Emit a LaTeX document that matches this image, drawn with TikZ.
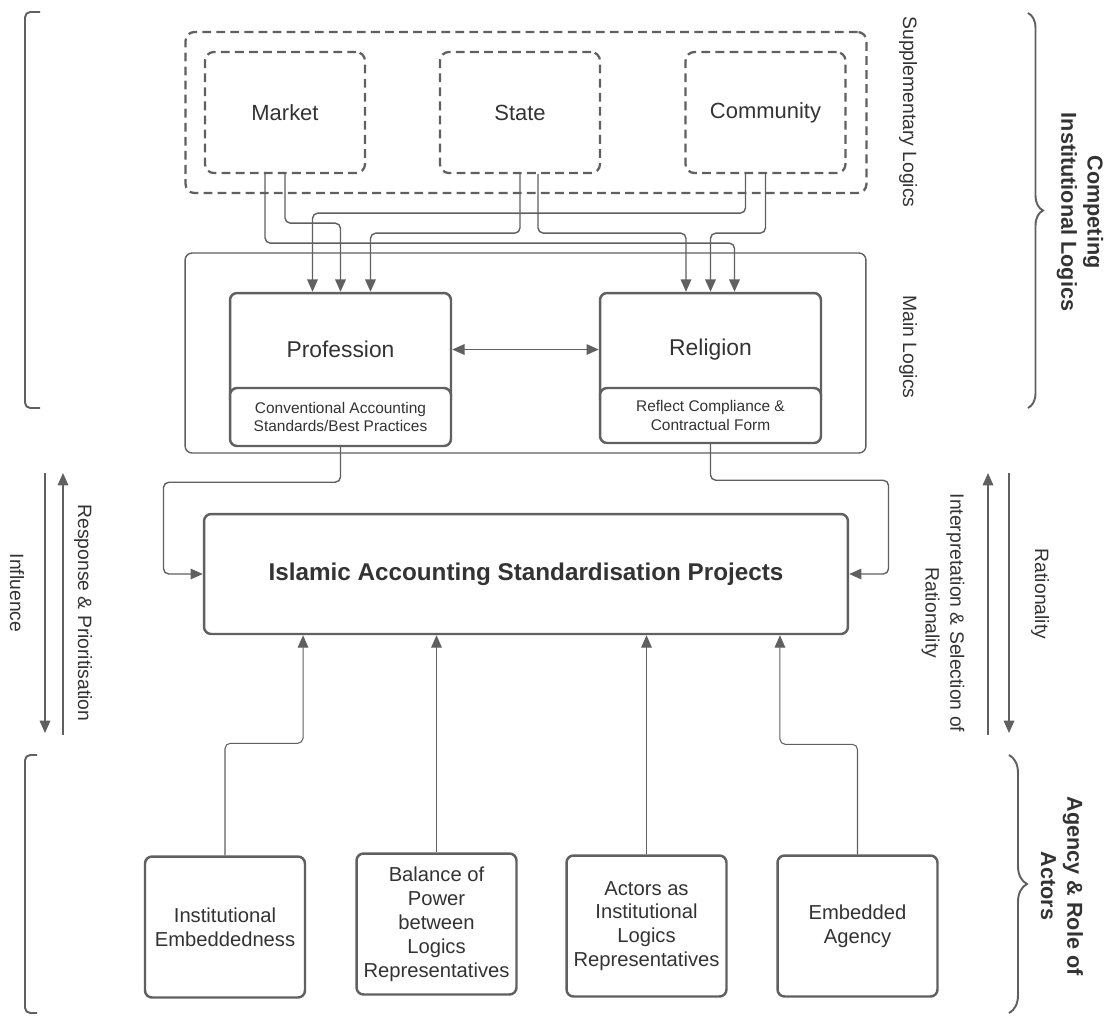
\documentclass[tikz,border=0pt]{standalone}
\usepackage{fontspec}
\setmainfont{Liberation Sans}
\usetikzlibrary{arrows.meta, positioning, calc, decorations.pathreplacing}
\definecolor{linegray}{RGB}{96,96,96}
\definecolor{textgray}{RGB}{51,51,51}
\tikzset{
    logicbox/.style={
        rectangle, draw=linegray, line width=1.3pt, dash pattern=on 5pt off 3pt,
        rounded corners=5pt, text=textgray, font=\fontsize{12.5}{15}\selectfont
    },
    mainblock/.style={
        rectangle, draw=linegray, line width=1.4pt, rounded corners=4pt,
        fill=white, text=textgray, align=center
    },
    subblock/.style={mainblock, font=\fontsize{8.8}{10.4}\selectfont},
    actorblock/.style={
        mainblock, minimum width=3.2cm, minimum height=2.82cm,
        font=\fontsize{11.5}{13.6}\selectfont
    },
    link/.style={draw=linegray, line width=0.8pt, rounded corners=3pt, -{Triangle[length=7pt, width=6pt]}},
    flow/.style={draw=linegray, line width=0.8pt, -{Triangle[length=7pt, width=6pt]}},
    sidelabel/.style={rotate=-90, text=textgray, align=center, font=\fontsize{11}{14}\selectfont},
    grouplabel/.style={rotate=-90, text=textgray, align=center, font=\fontsize{12.3}{15}\selectfont\bfseries},
    bracket/.style={draw=linegray, line width=1.1pt, rounded corners=3pt},
    bracebar/.style={draw=linegray, line width=1.1pt, decorate}
}
\begin{document}
\begin{tikzpicture}[x=0.02cm, y=-0.02cm]
\useasboundingbox (0,0) rectangle (1108,1015);

% Supplementary logics
\node[logicbox, minimum width=13.62cm, minimum height=3.22cm] (supp) at (526,112.5) {};
\node[logicbox, minimum width=3.2cm, minimum height=2.42cm] (market) at (285,112.5) {Market};
\node[logicbox, minimum width=3.2cm, minimum height=2.42cm] (state) at (520,112.5) {State};
\node[logicbox, minimum width=3.2cm, minimum height=2.42cm] (community) at (765.5,112.5) {Community};

% Main logics
\node[mainblock, line width=0.8pt, minimum width=13.62cm, minimum height=4cm] (mainlog) at (525.5,353) {};
\node[mainblock, minimum width=4.42cm, minimum height=2.26cm, font=\fontsize{13}{15}\selectfont] (prof) at (340.5,349.5) {Profession};
\node[subblock, minimum width=4.42cm, minimum height=1.16cm] (profsub) at (340.5,417) {Conventional Accounting\\Standards/Best Practices};
\node[mainblock, minimum width=4.42cm, minimum height=2.26cm, font=\fontsize{13}{15}\selectfont] (relig) at (710.5,349.5) {Religion};
\node[subblock, minimum width=4.42cm, minimum height=1.1cm] (religsub) at (710.5,415.5) {Reflect Compliance \&\\Contractual Form};

% Standardisation projects
\node[mainblock, minimum width=12.88cm, minimum height=2.4cm, font=\fontsize{13.8}{16}\selectfont\bfseries] (proj) at (526,574) {Islamic Accounting Standardisation Projects};

% Actors
\node[actorblock] (inst) at (225,927) {Institutional\\Embeddedness};
\node[actorblock] (bal) at (436.5,924) {Balance of\\Power\\between\\Logics\\Representatives};
\node[actorblock] (act) at (646.5,926) {Actors as\\Institutional\\Logics\\Representatives};
\node[actorblock] (emb) at (857.5,926) {Embedded\\Agency};

% Supplementary to main logics
\draw[link] ([xshift=-0.4cm]market.south) -- ++(0,69) -| ([xshift=0.48cm]relig.north);
\draw[link] (market.south) -- ++(0,49) -| (prof.north);
\draw[link] (state.south) -- ++(0,59) -| ([xshift=0.6cm]prof.north);
\draw[link] ([xshift=0.36cm]state.south) -- ++(0,59) -| ([xshift=-0.49cm]relig.north);
\draw[link] ([xshift=-0.4cm]community.south) -- ++(0,39) -| ([xshift=-0.56cm]prof.north);
\draw[link] (community.south) -- ++(0,59) -| (relig.north);
\draw[link, {Triangle[length=7pt, width=6pt]}-{Triangle[length=7pt, width=6pt]}] (prof.east) -- (relig.west);

% Main logics to projects
\draw[link] (profsub.south) -- ++(0,35) -- ++(-177,0) |- (proj.west);
\draw[link] (religsub.south) -- ++(0,36) -- ++(178,0) |- (proj.east);

% Actors to projects
\draw[link, line width=0.6pt] (inst.north) -- ++(0,-112) -| ([xshift=-4.46cm]proj.south);
\draw[link, line width=0.6pt] (bal.north) -- (bal.north |- proj.south);
\draw[link, line width=0.6pt] (act.north) -- (act.north |- proj.south);
\draw[link, line width=0.6pt] (emb.north) -- ++(0,-110) -| ([xshift=5.08cm]proj.south);

% Side flows
\coordinate (inflA) at (45,473);
\coordinate (inflB) at (45,733);
\coordinate (respA) at (63,735);
\coordinate (respB) at (63,473);
\coordinate (interA) at (988,735);
\coordinate (interB) at (988,473);
\coordinate (ratA) at (1009,473);
\coordinate (ratB) at (1009,733);
\draw[flow] (inflA) -- (inflB);
\draw[flow] (respA) -- (respB);
\draw[flow] (interA) -- (interB);
\draw[flow] (ratA) -- (ratB);
\node[sidelabel] (influence) at (17,593) {Influence};
\node[sidelabel] (response) at (83,613) {Response \& Prioritisation};
\node[sidelabel] (interp) at (943,613) {Interpretation \& Selection of\\Rationality};
\node[sidelabel] (ration) at (1040,594) {Rationality};

% Group labels
\node[sidelabel] (supplabel) at (908,112) {Supplementary Logics};
\node[sidelabel] (mainlabel) at (908,347) {Main Logics};
\draw[bracket] (40,12) -- (25,12) -- (25,408) -- (40,408);
\draw[bracket] (37,755) -- (25,755) -- (25,1013) -- (37,1013);
\draw[bracebar, decoration={brace, amplitude=0.3cm}] (1028,13) -- (1028,408);
\draw[bracebar, decoration={brace, amplitude=0.36cm}] (1009,755) -- (1009,1013);
\node[grouplabel] (competing) at (1080,212) {Competing\\Institutional Logics};
\node[grouplabel] (agency) at (1062,886) {Agency \& Role of\\Actors};

\end{tikzpicture}
\end{document}
